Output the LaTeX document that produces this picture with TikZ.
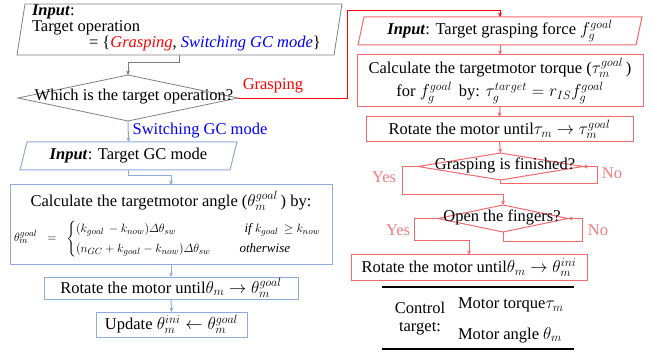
\documentclass[tikz,border=0pt]{standalone}
\usepackage{amsmath}
\usepackage{fontspec}
\setmainfont{Liberation Serif}
\usetikzlibrary{arrows.meta}
\definecolor{linkgray}{HTML}{7F7F7F}
\definecolor{edgeblue}{HTML}{8FAADC}
\definecolor{edgered}{HTML}{F4686C}
\definecolor{yesno}{HTML}{F27C7E}
\definecolor{pureRed}{HTML}{FF0000}
\definecolor{pureBlue}{HTML}{0000FF}
\begin{document}
\begin{tikzpicture}[x=1pt,y=-1pt,
  font=\fontsize{16.5}{18}\selectfont,
  every node/.style={inner sep=0pt, outer sep=0pt},
  tip/.style={-{Stealth[length=4.5pt,width=4pt]}},
  grayline/.style={draw=linkgray, line width=0.8pt},
  blueline/.style={draw=edgeblue, line width=1pt},
  redline/.style={draw=edgered, line width=1pt},
  bluebox/.style={draw=edgeblue, line width=1pt},
  redbox/.style={draw=edgered, line width=1pt},
  answer/.style={text=yesno},
]
\useasboundingbox (0,0) rectangle (652,352);

% ---------------- left column: operation choice and GC mode switching
\node[minimum width=317pt, minimum height=51pt] (in0) at (179.5,29.5) {};
\node[anchor=north west, align=left, font=\fontsize{16.5}{16}\selectfont] (in0txt) at (32,4.5)
  {\textbf{\textit{Input}}:\\Target operation\\\hspace*{57pt}= \{\textcolor{pureRed}{\textit{Grasping}}, \textcolor{pureBlue}{\textit{Switching GC mode}}\}};
\draw[grayline] ([xshift=4pt]in0.north west) -- ([xshift=4pt]in0.north east)
  -- ([xshift=-4pt]in0.south east) -- ([xshift=-4pt]in0.south west) -- cycle;

\node[minimum width=220pt, minimum height=46pt] (q1) at (128,98) {};
\draw[grayline] (q1.north) -- (q1.east) -- (q1.south) -- (q1.west) -- cycle;
\node (q1txt) at (134,97) {Which is the target operation?};

\node[minimum width=210pt, minimum height=28pt] (in1) at (128.5,156) {\textbf{\textit{Input}}: Target GC mode};
\draw[blueline] ([xshift=3.5pt]in1.north west) -- ([xshift=3.5pt]in1.north east)
  -- ([xshift=-3.5pt]in1.south east) -- ([xshift=-3.5pt]in1.south west) -- cycle;

\node[bluebox, minimum width=322pt, minimum height=79pt] (calc) at (171,224.5) {};
\node (calct) at (171,201) {Calculate the targetmotor angle ($\theta_m^{goal}$\,) by:};
\node[anchor=west] (eq) at (14,239) {\fontsize{13}{15}\selectfont
  $\theta_m^{goal} \;\;=\;\; \begin{cases}
    (k_{goal}\,-k_{now})\varDelta\theta_{sw} & \hspace*{21pt}\mathit{if}\ k_{goal}\,\geq k_{now}\\[2pt]
    (n_{GC}+k_{goal}-k_{now})\varDelta\theta_{sw} & \hspace*{16pt}\mathit{otherwise}
  \end{cases}$};

\node[bluebox, minimum width=254pt, minimum height=22pt] (rot1) at (171,288)
  {Rotate the motor until$\theta_m \rightarrow \theta_m^{goal}$};
\node[bluebox, minimum width=151pt, minimum height=25pt] (upd) at (171.5,324.5)
  {Update $\theta_m^{ini} \leftarrow \theta_m^{goal}$};

\draw[grayline, tip] (in0.south) -- ++(0,7) -| (q1.north);
\draw[blueline, tip] (q1.south) -- (in1.north);
\draw[blueline, tip] (in1.south) -- ++(0,6) -| (calc.north);
\draw[blueline, tip] (calc.south) -- (rot1.north);
\draw[blueline, tip] (rot1.south) -- (upd.north);

\node[text=pureRed] (lgrasp) at (273,86) {Grasping};
\node[text=pureBlue] (lswitch) at (200,131) {Switching GC mode};

% ---------------- right column: grasping sequence
\node[minimum width=278pt, minimum height=28pt] (in2) at (500,31)
  {\textbf{\textit{Input}}: Target grasping force $f_g^{goal}$};
\draw[redline] ([xshift=3pt]in2.north west) -- ([xshift=3pt]in2.north east)
  -- ([xshift=-3pt]in2.south east) -- ([xshift=-3pt]in2.south west) -- cycle;

\coordinate (gturn) at (347,10);
\draw[draw=pureRed, line width=0.8pt, tip] (q1.east) -| (gturn) -| (in2.north);

\node[redbox, minimum width=286pt, minimum height=52pt, align=center] (calc2) at (500,81)
  {Calculate the targetmotor torque ($\tau_m^{goal}$\,)\\[4pt]
   for $f_g^{goal}$\, by: $\tau_g^{target} = r_{IS}f_g^{goal}$};

\node[redbox, minimum width=267pt, minimum height=25pt] (rot2) at (499.5,129.5)
  {Rotate the motor until$\tau_m \rightarrow \tau_m^{goal}$};

\node[minimum width=165pt, minimum height=27pt] (q2) at (500.5,166.5) {};
\draw[redline] (q2.north) -- (q2.east) -- (q2.south) -- (q2.west) -- cycle;
\node (q2txt) at (505,165) {Grasping is finished?};

\node[minimum width=130pt, minimum height=27pt] (q3) at (503,218.5) {};
\draw[redline] (q3.north) -- (q3.east) -- (q3.south) -- (q3.west) -- cycle;
\node (q3txt) at (502,217) {Open the fingers?};

\node[redbox, minimum width=236pt, minimum height=25pt] (rot3) at (469,267.5)
  {Rotate the motor until$\theta_m \rightarrow \theta_m^{ini}$};

\coordinate (y1) at (402,195);
\coordinate (n1) at (597,184);
\coordinate (y2) at (414,241);
\coordinate (n2) at (582,242);
\draw[redline, tip] (in2.south) -- (calc2.north);
\draw[redline, tip] (calc2.south) -- (rot2.north);
\draw[redline, tip] (rot2.south) -- (q2.north);
\draw[redline, tip] (q2.west) -| (y1) -| (q3.north);
\draw[redline, tip] (q2.south) |- (n1) |- (q2.east);
\draw[redline, tip] (q3.west) -| (y2) -| (rot3.north);
\draw[redline, tip] (q3.south) |- (n2) |- (q3.east);

\node[answer] (yes1) at (384,177) {Yes};
\node[answer] (no1) at (612,173) {No};
\node[answer] (yes2) at (398,230) {Yes};
\node[answer] (no2) at (598,230) {No};

% ---------------- legend of the control targets
\draw[line width=2pt] (382,287) -- (574,287);
\draw[line width=2pt] (382,349) -- (574,349);
\node[align=center] (ctarget) at (420,319) {Control\\target:};
\node[anchor=west] (mtorque) at (458,305) {Motor torque$\tau_m$};
\node[anchor=west] (mangle) at (458,335) {Motor angle $\theta_m$};
\end{tikzpicture}
\end{document}
